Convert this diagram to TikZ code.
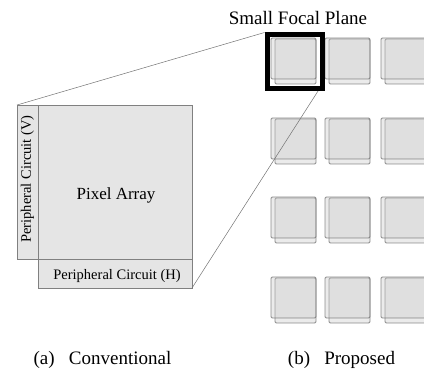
\documentclass[tikz,border=0pt]{standalone}
\usepackage{fontspec}
\setmainfont{Liberation Serif}
\usetikzlibrary{calc}
\begin{document}
\begin{tikzpicture}[x=1pt,y=-1pt,
  conv/.style={draw=black!50, fill=black!10, line width=0.8pt, inner sep=0pt, outer sep=0pt, anchor=north west},
  cellbox/.style={draw=black!60, draw opacity=0.75, fill=black!22, fill opacity=0.35, rounded corners=1.2pt, line width=0.9pt},
  lbl/.style={inner sep=0pt, anchor=base, font=\fontsize{19}{19}\selectfont},
  small/.style={inner sep=0pt, font=\fontsize{14.5}{14.5}\selectfont},
  guide/.style={draw=black!55, line width=0.5pt}
]
\useasboundingbox (0,0) rectangle (424,369);

% conventional sensor
\node[conv, minimum width=21pt, minimum height=154pt] (pv) at (17,105) {};
\node[conv, minimum width=154pt, minimum height=154pt] (pa) at (38,105) {};
\node[conv, minimum width=154pt, minimum height=29pt] (ph) at (38,259) {};
\node[inner sep=0pt, font=\fontsize{17}{17}\selectfont] (patext) at (116,195) {Pixel Array};
\node[small, rotate=90] (pvtext) at (27.5,179) {Peripheral Circuit (V)};
\node[small] (phtext) at (117,276) {Peripheral Circuit (H)};

% proposed: grid of small focal planes
\foreach \cx in {271,325,381}{
  \foreach \cy in {38,118,197,277}{
    \path[cellbox] (\cx+4,\cy+1) rectangle (\cx+45,\cy+46);
    \path[cellbox] (\cx,\cy) rectangle (\cx+45,\cy+41);
  }
}

% highlighted small focal plane
\node[draw, line width=5pt, minimum width=55.5pt, minimum height=53.5pt, inner sep=0pt] (fp) at (294.75,61.75) {};

% guide lines
\draw[guide] (pv.north west) -- (fp.north west);
\draw[guide] (ph.south east) -- ($(fp.south west)!0.885!(fp.south east)$);

% labels
\node[lbl] (sfp) at (298,25) {Small Focal Plane};
\node[lbl] (capa) at (102.5,364) {(a)\hspace{0.75em}Conventional};
\node[lbl] (capb) at (341.5,364) {(b)\hspace{0.75em}Proposed};
\end{tikzpicture}
\end{document}
